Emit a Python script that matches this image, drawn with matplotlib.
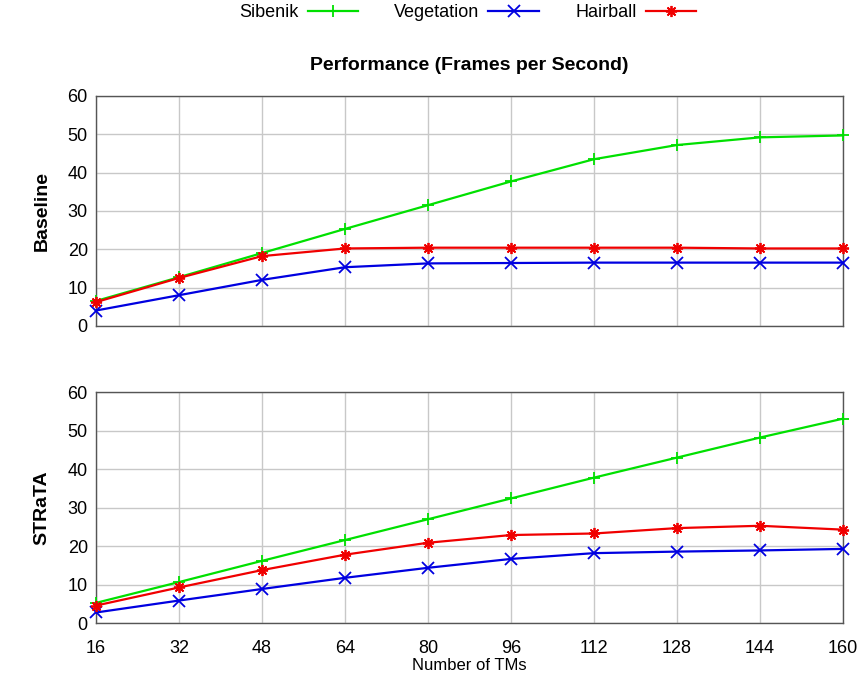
import matplotlib
matplotlib.use('Agg')
from matplotlib import pyplot as plt
from matplotlib.lines import Line2D

plt.rcParams['font.family'] = ['Liberation Sans', 'DejaVu Sans']

tms = [16, 32, 48, 64, 80, 96, 112, 128, 144, 160]

base_sibenik = [6.5, 12.7, 19.0, 25.3, 31.5, 37.7, 43.5, 47.2, 49.2, 49.7]
base_vegetation = [4.0, 8.0, 12.0, 15.3, 16.3, 16.4, 16.5, 16.5, 16.5, 16.5]
base_hairball = [6.2, 12.5, 18.2, 20.2, 20.4, 20.4, 20.4, 20.4, 20.2, 20.2]

strata_sibenik = [5.3, 10.7, 16.2, 21.6, 27.0, 32.4, 37.8, 43.0, 48.2, 53.1]
strata_vegetation = [2.8, 5.9, 8.9, 11.8, 14.4, 16.7, 18.2, 18.6, 18.9, 19.3]
strata_hairball = [4.6, 9.3, 13.8, 17.8, 20.9, 22.9, 23.3, 24.7, 25.3, 24.3]

names = ['Sibenik', 'Vegetation', 'Hairball']
colors = ['#00e000', '#0000e0', '#f00000']
markers = ['+', 'x', (8, 2, 0)]

fig = plt.figure(figsize=(8.58, 6.76), dpi=100)
ax1 = fig.add_axes([0.112, 0.518, 0.8705, 0.340])
ax2 = fig.add_axes([0.112, 0.078, 0.8705, 0.342])

for ax, series, label in [(ax1, [base_sibenik, base_vegetation, base_hairball], 'Baseline'),
                          (ax2, [strata_sibenik, strata_vegetation, strata_hairball], 'STRaTA')]:
    for ys, c, m in zip(series, colors, markers):
        ax.plot(tms, ys, color=c, marker=m, markersize=8, markeredgewidth=1.3,
                linewidth=1.6, clip_on=False, zorder=3)
    ax.set_xlim(16, 160)
    ax.set_ylim(0, 60)
    ax.set_xticks(tms)
    ax.set_yticks(range(0, 61, 10))
    ax.grid(True, color='#c8c8c8', linewidth=1.0)
    ax.tick_params(length=0, labelsize=13, pad=6)
    ax.tick_params(axis='x', pad=12)
    ax.set_ylabel(label, fontsize=14, fontweight='bold', labelpad=12)
    for s in ax.spines.values():
        s.set_color('#555555')
        s.set_linewidth(1.0)

ax1.tick_params(labelbottom=False)
ax1.set_title('Performance (Frames per Second)', fontsize=14, fontweight='bold', pad=19)
ax2.set_xlabel('Number of TMs', fontsize=12, labelpad=1)

handles = [Line2D([], [], color=c, marker=m, markersize=8, markeredgewidth=1.3, linewidth=1.6)
           for c, m in zip(colors, markers)]
fig.legend(handles, names, loc='upper center', bbox_to_anchor=(0.545, 1.018), ncol=3,
           frameon=False, markerfirst=False, fontsize=13, handlelength=2.8,
           columnspacing=2.0, handletextpad=0.5)

fig.savefig('out.png', dpi=100)
